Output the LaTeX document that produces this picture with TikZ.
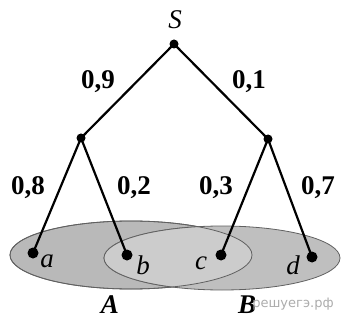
\documentclass[tikz,border=0pt]{standalone}
\usepackage{fontspec}
\setmainfont{Liberation Serif}
\newfontfamily\wmfont{DejaVu Sans}
\begin{document}
\begin{tikzpicture}[x=1pt,y=-1pt,
	dot/.style={circle,fill=black,inner sep=0pt,minimum size=9pt},
	leafdot/.style={circle,fill=black,inner sep=0pt,minimum size=11pt},
	prob/.style={font=\fontsize{27}{27}\selectfont\bfseries},
	lbl/.style={font=\fontsize{27}{27}\selectfont\itshape}]
		\useasboundingbox (0,0) rectangle (342,320);
		\filldraw[fill=gray!55,draw=gray!75!black,line width=0.8pt] (131,255) ellipse (121 and 34);
		\filldraw[fill=gray!50,draw=gray!75!black,line width=0.8pt] (222,258) ellipse (118 and 32);
		\begin{scope}
		\clip (131,255) ellipse (121 and 34);
		\filldraw[fill=gray!40,draw=gray!75!black,line width=0.8pt] (222,258) ellipse (118 and 32);
		\end{scope}
		\draw[draw=gray!75!black,line width=0.8pt] (131,255) ellipse (121 and 34);
		\node[dot] (s) at (174,44) {};
		\node[dot] (l) at (81,138) {};
		\node[dot] (r) at (268,139) {};
		\node[leafdot] (a) at (33,253) {};
		\node[leafdot] (b) at (127,255) {};
		\node[leafdot] (c) at (221,255) {};
		\node[leafdot] (d) at (312,257) {};
		\draw[line width=2.2pt] (s.center) to (l.center) to (a.center);
		\draw[line width=2.2pt] (l.center) to (b.center);
		\draw[line width=2.2pt] (s.center) to (r.center) to (c.center);
		\draw[line width=2.2pt] (r.center) to (d.center);
		\node[lbl] (sl) at (175,20) {S};
		\node[prob] (p9) at (98,82) {0,9};
		\node[prob] (p1) at (249,82) {0,1};
		\node[prob] (p8) at (28,188) {0,8};
		\node[prob] (p2) at (134,188) {0,2};
		\node[prob] (p3) at (216,188) {0,3};
		\node[prob] (p7) at (318,188) {0,7};
		\node[lbl] (al) at (47,261) {a};
		\node[lbl] (bl) at (143,265) {b};
		\node[lbl] (cl) at (201,263) {c};
		\node[lbl] (dl) at (293,265) {d};
		\node[lbl,font=\fontsize{27}{27}\selectfont\bfseries\itshape] (A) at (110,305) {A};
		\node[lbl,font=\fontsize{27}{27}\selectfont\bfseries\itshape] (B) at (247,305) {B};
		\node[text=gray!65,font=\wmfont\fontsize{13}{13}\selectfont] (wm) at (293,304) {решуегэ.рф};
		\end{tikzpicture}
\end{document}
